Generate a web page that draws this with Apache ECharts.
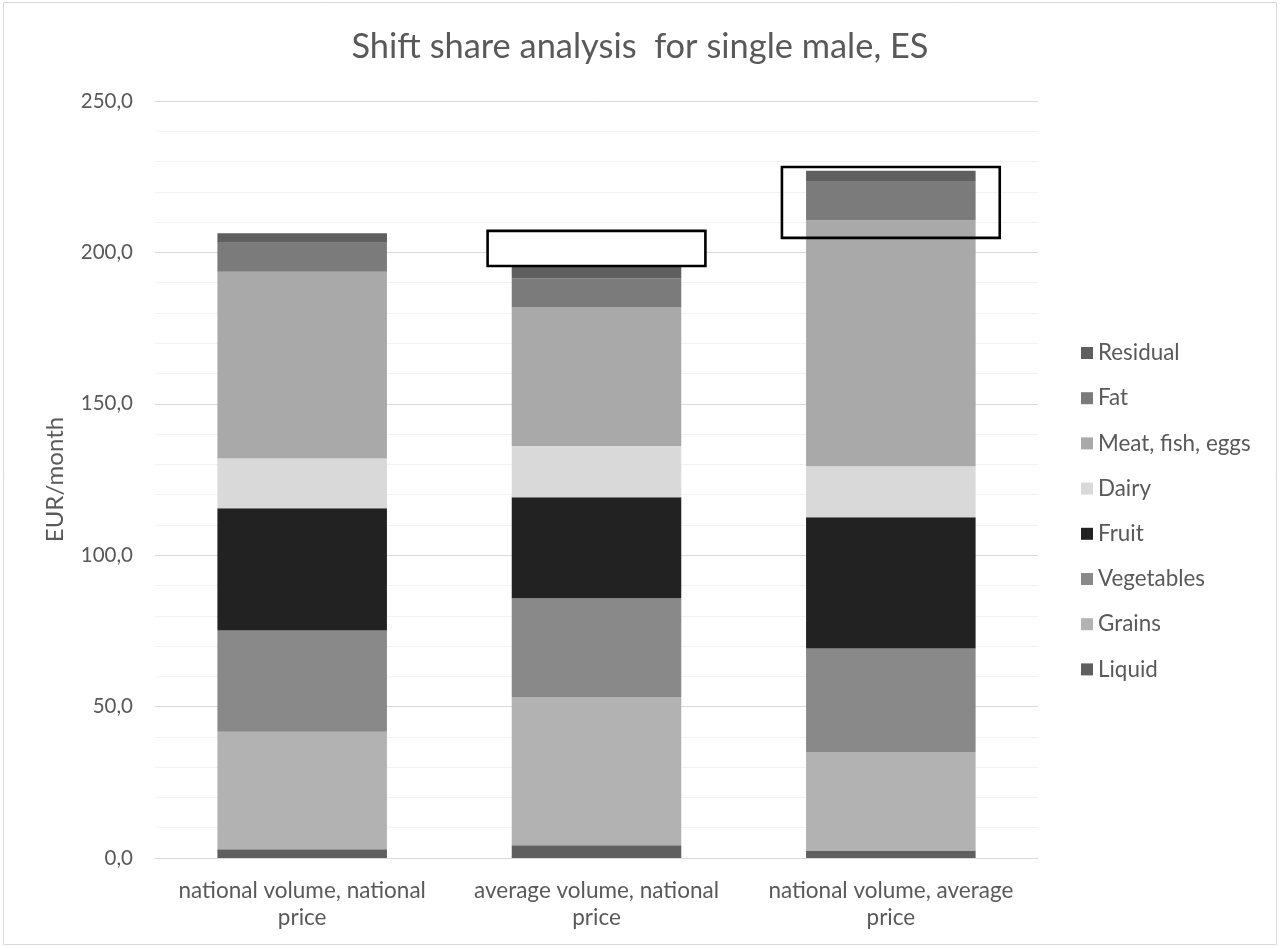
<!DOCTYPE html>
<html>
<head>
<meta charset="utf-8">
<script src="https://cdn.jsdelivr.net/npm/echarts@6/dist/echarts.min.js"></script>
<style>
  html, body { margin: 0; padding: 0; background: #ffffff; }
  #chart { width: 1280px; height: 948px; }
</style>
</head>
<body>
<div id="chart"></div>
<script>
// ---- data ----
const categories = [
  'national volume, national price',
  'average volume, national price',
  'national volume, average price'
];
const seriesNames = ['Liquid', 'Grains', 'Vegetables', 'Fruit', 'Dairy', 'Meat, fish, eggs', 'Fat', 'Residual'];
const liquid     = [2.9, 4.2, 2.5];
const grains     = [38.8, 49.0, 32.5];
const vegetables = [33.4, 32.6, 34.2];
const fruit      = [40.4, 33.3, 43.3];
const dairy      = [16.4, 17.0, 16.9];
const meat       = [61.7, 45.8, 81.2];
const fat        = [9.6, 9.6, 12.7];
const residual   = [3.1, 4.0, 3.7];
const yTicks = [0, 50, 100, 150, 200, 250];
// highlighted regions (category index, value range)
const boxCategory = [1, 2];
const boxLow  = [195.5, 204.8];
const boxHigh = [207.1, 228.2];

const seriesValues = [liquid, grains, vegetables, fruit, dairy, meat, fat, residual];
const seriesColors = ['#5f5f5f', '#b2b2b2', '#898989', '#222222', '#d9d9d9', '#a9a9a9', '#7b7b7b', '#5f5f5f'];

const FONT = 'Lato';
const chart = echarts.init(document.getElementById('chart'), null, { renderer: 'canvas' });

const option = {
  backgroundColor: '#ffffff',
  animation: false,
  title: {
    text: 'Shift share analysis  for single male, ES',
    left: 'center',
    top: 25,
    textStyle: { fontFamily: FONT, fontSize: 34.4, fontWeight: 'normal', color: '#595959' }
  },
  legend: {
    orient: 'vertical',
    left: 1081,
    top: 342,
    padding: 0,
    itemWidth: 12,
    itemHeight: 12,
    itemGap: 23.2,
    icon: 'rect',
    data: seriesNames.slice().reverse(),
    textStyle: { fontFamily: FONT, fontSize: 22.4, color: '#595959', lineHeight: 22 }
  },
  grid: { left: 155, right: 242, top: 101, bottom: 90 },
  xAxis: {
    type: 'category',
    data: categories,
    axisLine: { lineStyle: { color: '#d9d9d9', width: 1 } },
    axisTick: { show: false },
    axisLabel: {
      interval: 0,
      fontFamily: FONT, fontSize: 22.5, color: '#595959', lineHeight: 27, margin: 19,
      formatter: v => v.replace(/ price$/, '\nprice')
    }
  },
  yAxis: {
    type: 'value',
    min: yTicks[0],
    max: yTicks[yTicks.length - 1],
    interval: yTicks[1] - yTicks[0],
    name: 'EUR/month',
    nameLocation: 'middle',
    nameGap: 88,
    nameTextStyle: { fontFamily: FONT, fontSize: 24, color: '#595959' },
    axisLine: { show: false },
    axisTick: { show: false },
    axisLabel: {
      fontFamily: FONT, fontSize: 20.5, color: '#595959', margin: 22,
      formatter: v => v.toFixed(1).replace('.', ',')
    },
    splitLine: { lineStyle: { color: '#d9d9d9', width: 1 } },
    minorTick: { show: false, splitNumber: 5 },
    minorSplitLine: { show: true, lineStyle: { color: '#f2f2f2', width: 1 } }
  },
  series: seriesNames.map((name, i) => ({
    name: name,
    type: 'bar',
    stack: 'total',
    barWidth: '57.6%',
    data: seriesValues[i],
    itemStyle: { color: seriesColors[i] },
    emphasis: { disabled: true }
  }))
};

chart.setOption(option);

function drawBoxes() {
  const p0 = chart.convertToPixel({ xAxisIndex: 0, yAxisIndex: 0 }, [0, 0]);
  const p1 = chart.convertToPixel({ xAxisIndex: 0, yAxisIndex: 0 }, [1, 0]);
  const band = p1[0] - p0[0];
  const boxW = band * 0.74;
  const elements = [{
    type: 'rect',
    shape: { x: 3.5, y: 2.5, width: 1273, height: 942 },
    style: { fill: null, stroke: '#d9d9d9', lineWidth: 1 },
    silent: true
  }];
  boxCategory.forEach((c, i) => {
    const top = chart.convertToPixel({ xAxisIndex: 0, yAxisIndex: 0 }, [c, boxHigh[i]]);
    const bot = chart.convertToPixel({ xAxisIndex: 0, yAxisIndex: 0 }, [c, boxLow[i]]);
    elements.push({
      type: 'rect',
      shape: { x: top[0] - boxW / 2, y: top[1], width: boxW, height: bot[1] - top[1] },
      style: { fill: '#ffffff', stroke: '#000000', lineWidth: 2.6 },
      z: 100,
      silent: true
    });
  });
  // keep the third box's fill transparent so the bar shows through
  elements[2].style.fill = null;
  chart.setOption({ graphic: { elements: elements } });
}
drawBoxes();
</script>
</body>
</html>
